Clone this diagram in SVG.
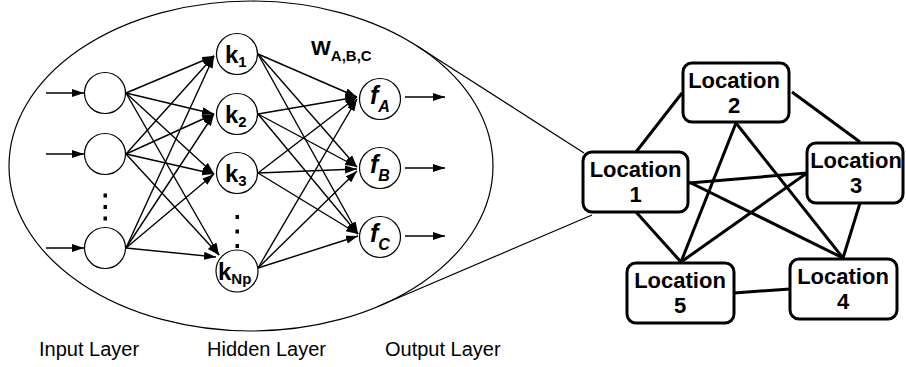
<svg xmlns="http://www.w3.org/2000/svg" width="906" height="367" viewBox="0 0 906 367">
<defs>
<marker id="ah" markerUnits="userSpaceOnUse" markerWidth="13" markerHeight="9" refX="12" refY="4" orient="auto"><path d="M0,0 L12,4 L0,8 z" fill="#000"/></marker>
<style>
.nd{fill:#fff;stroke:#000;stroke-width:1.2}
.ar{stroke:#000;stroke-width:1.4;fill:none;marker-end:url(#ah)}
.ge{stroke:#000;stroke-width:3;fill:none}
.box{fill:#fff;stroke:#000;stroke-width:3}
.t{font-family:"Liberation Sans",Arial,sans-serif;fill:#000}
.b{font-weight:bold}
.loc{font-family:"Liberation Sans",Arial,sans-serif;font-weight:bold;font-size:22px;text-anchor:middle}
.dot{fill:#000}
</style>
</defs>
<rect width="906" height="367" fill="#fff"/>
<ellipse cx="251" cy="166" rx="242" ry="165" fill="none" stroke="#000" stroke-width="1.2"/>
<g id="zoom-lines">
<line x1="417" y1="46" x2="584" y2="153" stroke="#000" stroke-width="1.2"/>
<line x1="379" y1="306" x2="592" y2="215" stroke="#000" stroke-width="1.2"/>
</g>
<g id="connectors">
<line class="ar" x1="46" y1="93" x2="84" y2="93"/>
<line class="ar" x1="46" y1="154" x2="84" y2="154"/>
<line class="ar" x1="46" y1="248" x2="84" y2="248"/>
<line class="ar" x1="126" y1="93" x2="214" y2="56"/>
<line class="ar" x1="126" y1="93" x2="214" y2="114"/>
<line class="ar" x1="126" y1="93" x2="214" y2="174"/>
<line class="ar" x1="126" y1="93" x2="219" y2="255"/>
<line class="ar" x1="126" y1="154" x2="214" y2="56"/>
<line class="ar" x1="126" y1="154" x2="214" y2="114"/>
<line class="ar" x1="126" y1="154" x2="214" y2="174"/>
<line class="ar" x1="126" y1="154" x2="219" y2="255"/>
<line class="ar" x1="126" y1="248" x2="214" y2="56"/>
<line class="ar" x1="126" y1="248" x2="214" y2="114"/>
<line class="ar" x1="126" y1="248" x2="214" y2="174"/>
<line class="ar" x1="126" y1="248" x2="216" y2="257"/>
<line class="ar" x1="258" y1="54" x2="357" y2="97"/>
<line class="ar" x1="258" y1="54" x2="357" y2="167"/>
<line class="ar" x1="258" y1="54" x2="358" y2="234"/>
<line class="ar" x1="258" y1="114" x2="357" y2="97"/>
<line class="ar" x1="258" y1="114" x2="357" y2="167"/>
<line class="ar" x1="258" y1="114" x2="358" y2="234"/>
<line class="ar" x1="258" y1="173" x2="357" y2="97"/>
<line class="ar" x1="258" y1="173" x2="357" y2="169"/>
<line class="ar" x1="258" y1="173" x2="358" y2="234"/>
<line class="ar" x1="258" y1="268" x2="357" y2="99"/>
<line class="ar" x1="258" y1="268" x2="357" y2="171"/>
<line class="ar" x1="258" y1="268" x2="358" y2="236"/>
<line class="ar" x1="405" y1="97" x2="445" y2="97"/>
<line class="ar" x1="405" y1="168" x2="445" y2="168"/>
<line class="ar" x1="405" y1="236" x2="445" y2="236"/>
<line class="ge" x1="636" y1="152" x2="682" y2="93"/>
<line class="ge" x1="792" y1="92" x2="860" y2="142"/>
<line class="ge" x1="689" y1="183" x2="807" y2="173"/>
<line class="ge" x1="689" y1="182" x2="843" y2="258"/>
<line class="ge" x1="736" y1="123" x2="681" y2="262"/>
<line class="ge" x1="736" y1="123" x2="843" y2="258"/>
<line class="ge" x1="807" y1="173" x2="681" y2="262"/>
<line class="ge" x1="860" y1="203" x2="843" y2="258"/>
<line class="ge" x1="636" y1="212" x2="681" y2="262"/>
<line class="ge" x1="734" y1="293" x2="790" y2="289"/>
</g>
<g id="input-nodes">
<circle class="nd" cx="105" cy="93" r="20.5"/>
<circle class="nd" cx="105" cy="154" r="20.5"/>
<circle class="nd" cx="105" cy="248" r="20.5"/>
<rect class="dot" x="103.5" y="193.5" width="3.5" height="4"/>
<rect class="dot" x="103.5" y="205" width="3.5" height="4"/>
<rect class="dot" x="103.5" y="216.5" width="3.5" height="4"/>
</g>
<g id="hidden-k1">
<circle class="nd" cx="237" cy="54" r="20.5"/>
<text class="t b" x="225" y="63" font-size="24">k<tspan font-size="15" dy="4">1</tspan></text>
</g>
<g id="hidden-k2">
<circle class="nd" cx="237" cy="114" r="20.5"/>
<text class="t b" x="225" y="123" font-size="24">k<tspan font-size="15" dy="4">2</tspan></text>
</g>
<g id="hidden-k3">
<circle class="nd" cx="237" cy="173" r="20.5"/>
<text class="t b" x="225" y="182" font-size="24">k<tspan font-size="15" dy="4">3</tspan></text>
</g>
<g id="hidden-dots">
<rect class="dot" x="235.5" y="215" width="3.5" height="4"/>
<rect class="dot" x="235.5" y="229.5" width="3.5" height="4"/>
<rect class="dot" x="235.5" y="244" width="3.5" height="4"/>
</g>
<g id="hidden-kNp">
<circle class="nd" cx="237" cy="271" r="21"/>
<text class="t b" x="218" y="280" font-size="24">k<tspan font-size="15" dy="4">Np</tspan></text>
</g>
<g id="weights">
<text class="t b" x="311" y="55" font-size="21">W<tspan font-size="15" dy="6">A,B,C</tspan></text>
</g>
<g id="out-fA">
<circle class="nd" cx="380" cy="99" r="20.5"/>
<text class="t b" x="370" y="104" font-size="25" font-style="italic">f<tspan font-size="16" dy="8">A</tspan></text>
</g>
<g id="out-fB">
<circle class="nd" cx="380" cy="168" r="20.5"/>
<text class="t b" x="370" y="173" font-size="25" font-style="italic">f<tspan font-size="16" dy="8">B</tspan></text>
</g>
<g id="out-fC">
<circle class="nd" cx="380" cy="237" r="20.5"/>
<text class="t b" x="370" y="242" font-size="25" font-style="italic">f<tspan font-size="16" dy="8">C</tspan></text>
</g>
<g id="loc1">
<rect class="box" x="583" y="152" width="105" height="60" rx="9"/>
<text class="loc" x="635.5" y="177">Location</text>
<text class="loc" x="635.5" y="202">1</text>
</g>
<g id="loc2">
<rect class="box" x="683" y="63" width="106" height="59" rx="9"/>
<text class="loc" x="734" y="88">Location</text>
<text class="loc" x="734" y="113">2</text>
</g>
<g id="loc3">
<rect class="box" x="807" y="143" width="96" height="60" rx="9"/>
<text class="loc" x="856" y="168">Location</text>
<text class="loc" x="856" y="193">3</text>
</g>
<g id="loc4">
<rect class="box" x="790" y="259" width="107" height="60" rx="9"/>
<text class="loc" x="843" y="284">Location</text>
<text class="loc" x="843" y="309">4</text>
</g>
<g id="loc5">
<rect class="box" x="627" y="263" width="107" height="60" rx="9"/>
<text class="loc" x="680" y="288">Location</text>
<text class="loc" x="680" y="313">5</text>
</g>
<g id="labels">
<text class="t" x="39" y="356" font-size="20">Input Layer</text>
<text class="t" x="207" y="356" font-size="20">Hidden Layer</text>
<text class="t" x="385" y="356" font-size="20">Output Layer</text>
</g>
</svg>
